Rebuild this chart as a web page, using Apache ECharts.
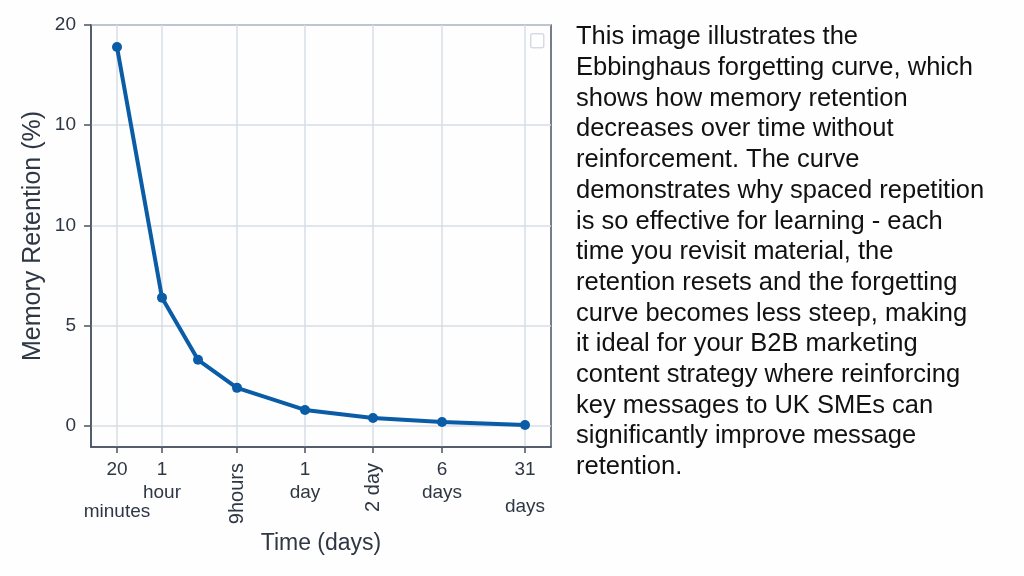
<!DOCTYPE html>
<html>
<head>
<meta charset="utf-8">
<script src="https://cdn.jsdelivr.net/npm/echarts@6/dist/echarts.min.js"></script>
<style>
  html, body { margin: 0; padding: 0; background: #fefefe; }
  #chart { width: 1024px; height: 576px; }
</style>
</head>
<body>
<div id="chart"></div>
<script>
// positions along the time axis (axis runs 0..46)
const xPositions = [2.6, 7.1, 10.7, 14.6, 21.4, 28.2, 35.1, 43.4]
const retention = [18.9, 6.4, 3.3, 1.9, 0.8, 0.4, 0.2, 0.05]

const tickPositions = [2.6, 7.1, 14.6, 21.4, 28.2, 35.1, 43.4]
const tickLabels = ['20\nminutes', '1\nhour', '9hours', '1\nday', '2 day', '6\ndays', '31\ndays']
const rotatedTicks = [false, false, true, false, true, false, false]

const yTicks = [0, 5, 10, 15, 20]
const yTickLabels = ['0', '5', '10', '10', '20']

const description = [
  'This image illustrates the',
  'Ebbinghaus forgetting curve, which',
  'shows how memory retention',
  'decreases over time without',
  'reinforcement. The curve',
  'demonstrates why spaced repetition',
  'is so effective for learning - each',
  'time you revisit material, the',
  'retention resets and the forgetting',
  'curve becomes less steep, making',
  'it ideal for your B2B marketing',
  'content strategy where reinforcing',
  'key messages to UK SMEs can',
  'significantly improve message',
  'retention.'
]

// second-line style per tick (some labels sit lower than others)
const secondLineStyle = { 0: 'bm', 6: 'bd' }

const axisColor = '#4a5361'
const labelColor = '#2e3744'
const gridColor = '#d6dee6'
const font = 'Liberation Sans, Arial, sans-serif'

const chart = echarts.init(document.getElementById('chart'))

// the first label overlaps its neighbour, so it goes on its own axis
// (echarts would otherwise drop one of them)
const firstTick = [tickPositions[0]]
const horizontalTicks = tickPositions.filter((v, i) => i > 0 && !rotatedTicks[i])
const verticalTicks = tickPositions.filter((v, i) => rotatedTicks[i])

function twoLineLabel(value) {
  const i = tickPositions.indexOf(value)
  if (i < 0) return ''
  const parts = tickLabels[i].split('\n')
  const b = secondLineStyle[i] || 'b'
  return '{t|' + parts[0] + '}\n{' + b + '|' + parts[1] + '}'
}

const richLabel = {
  t: { fontSize: 19, lineHeight: 23, color: labelColor, fontFamily: font },
  b: { fontSize: 19, lineHeight: 23, color: labelColor, fontFamily: font },
  bm: { fontSize: 19, lineHeight: 61, color: labelColor, fontFamily: font },
  bd: { fontSize: 19, lineHeight: 51, color: labelColor, fontFamily: font }
}

function labelOnlyAxis(values, extra) {
  return {
    type: 'value',
    min: 0,
    max: 46,
    position: 'bottom',
    axisLine: { show: false, onZero: false },
    axisTick: { show: false },
    splitLine: { show: false },
    axisLabel: Object.assign({
      customValues: values,
      color: labelColor
    }, extra)
  }
}

chart.setOption({
  backgroundColor: '#fefefe',
  animation: false,
  textStyle: { fontFamily: font },
  grid: {
    left: 91,
    right: 473,
    top: 25,
    bottom: 129,
    show: true,
    borderColor: axisColor,
    borderWidth: 1.5,
    backgroundColor: 'transparent'
  },
  xAxis: [
    {
      type: 'value',
      min: 0,
      max: 46,
      name: 'Time (days)',
      nameLocation: 'middle',
      nameGap: 85,
      nameTextStyle: { fontSize: 23, color: labelColor, fontFamily: font },
      axisLine: { show: true, onZero: false, lineStyle: { color: axisColor, width: 1.5 } },
      axisTick: { show: true, length: 6, customValues: tickPositions, lineStyle: { color: axisColor, width: 1.5 } },
      splitLine: { show: true, lineStyle: { color: gridColor, width: 1.5 } },
      axisLabel: {
        customValues: horizontalTicks,
        margin: 11,
        color: labelColor,
        fontSize: 19,
        formatter: twoLineLabel,
        rich: richLabel
      }
    },
    labelOnlyAxis(firstTick, {
      margin: 11,
      fontSize: 19,
      formatter: twoLineLabel,
      rich: richLabel
    }),
    labelOnlyAxis(verticalTicks, {
      rotate: 90,
      margin: 16,
      fontSize: 20,
      formatter: function (value) {
        const i = tickPositions.indexOf(value)
        return i < 0 ? '' : tickLabels[i]
      }
    })
  ],
  yAxis: {
    type: 'value',
    min: -1.05,
    max: 20,
    name: 'Memory Retention (%)',
    nameLocation: 'middle',
    nameGap: 45,
    nameTextStyle: { fontSize: 25, color: labelColor, fontFamily: font },
    axisLine: { show: true, lineStyle: { color: axisColor, width: 1.5 } },
    axisTick: { show: true, length: 7, customValues: yTicks, lineStyle: { color: axisColor, width: 1.5 } },
    splitLine: { show: true, lineStyle: { color: gridColor, width: 1.5 } },
    axisLabel: {
      customValues: yTicks,
      margin: 15,
      color: labelColor,
      fontSize: 19,
      formatter: function (value) {
        const i = yTicks.indexOf(value)
        return i < 0 ? '' : yTickLabels[i]
      }
    }
  },
  graphic: [
    {
      type: 'rect',
      left: 530,
      top: 33,
      shape: { width: 13, height: 14, r: 2 },
      style: { fill: '#ffffff', stroke: '#d5dbe3', lineWidth: 1.5 }
    },
    {
      type: 'text',
      left: 576,
      top: 22,
      style: {
        text: description.join('\n'),
        font: '25.5px ' + font,
        lineHeight: 30.7,
        fill: '#111111'
      }
    }
  ],
  series: [
    {
      type: 'line',
      xAxisIndex: 0,
      data: xPositions.map((x, i) => [x, retention[i]]),
      color: '#0a5ca6',
      lineStyle: { width: 4, color: '#0a5ca6' },
      symbol: 'circle',
      symbolSize: 10,
      itemStyle: { color: '#0a5ca6' }
    }
  ]
})
</script>
</body>
</html>
